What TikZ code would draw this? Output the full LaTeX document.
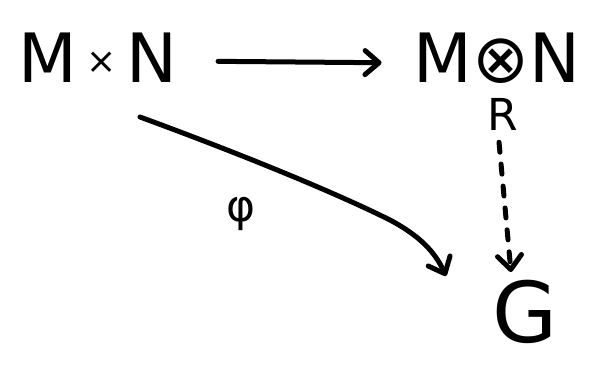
\documentclass[tikz,border=0pt]{standalone}
\usepackage{fontspec}
\setmainfont{DejaVu Sans}
\usetikzlibrary{arrows.meta}
\begin{document}
\begin{tikzpicture}[x=1pt,y=-1pt,
  ink/.style={line width=5pt,line cap=round,line join=round},
  barb/.style={-{Straight Barb[length=14pt,width=24pt,line width=5pt,round]}},
  obj/.style={inner sep=0pt,font=\fontsize{68}{68}\selectfont},
  lbl/.style={inner sep=0pt,font=\fontsize{44}{44}\selectfont}]
\useasboundingbox (0,0) rectangle (596,365);
% objects
\node[obj] (mxn) at (98,58) {M\hspace{10pt}\raisebox{9pt}{\fontsize{36}{36}\selectfont ×}\hspace{10pt}N};
\node[obj] (mon) at (497,58) {M⊗N};
\node[obj,font=\fontsize{84}{84}\selectfont] (g) at (525,312) {G};
\node[lbl] (r) at (503,114) {R};
% top map
\draw[ink,barb,shorten <=40pt,shorten >=32pt] ([yshift=-3pt]mxn.east) -- ([yshift=-5pt]mon.west);
% induced map R, dashed
\draw[ink,barb,dash pattern=on 10pt off 12pt] ([xshift=-4pt,yshift=-12pt]r.south) -- ([xshift=-14pt,yshift=8pt]g.north);
% phi
\coordinate (phitip) at (446,276);
\draw[ink,barb] (140,117) .. controls (230,150) and (330,190) .. (390,220)
   .. controls (420,236) and (435,252) .. (phitip);
\node[lbl] (phi) at (241,214) {φ};
\end{tikzpicture}
\end{document}
